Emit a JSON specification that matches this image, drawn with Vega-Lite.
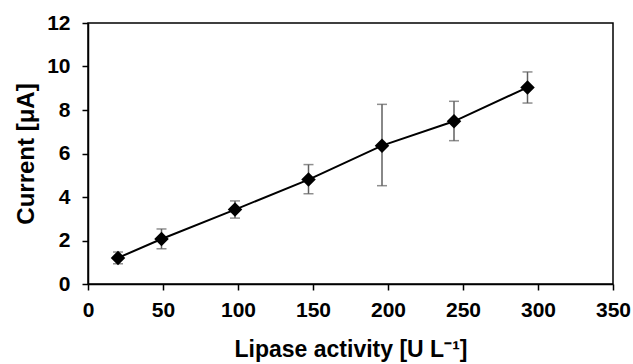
{
  "$schema": "https://vega.github.io/schema/vega-lite/v6.json",
  "autosize": "none",
  "width": 525,
  "height": 261,
  "padding": {"left": 88, "top": 23, "right": 20, "bottom": 80},
  "background": "white",
  "config": {
    "view": {"stroke": "black", "strokeWidth": 1.5},
    "font": "Liberation Sans",
    "axis": {
      "labelFont": "Liberation Sans",
      "labelFontWeight": "bold",
      "labelFontSize": 21,
      "labelColor": "black",
      "titleFont": "Liberation Sans",
      "titleFontWeight": "bold",
      "titleFontSize": 23,
      "titleColor": "black",
      "domainColor": "black",
      "domainWidth": 1.5,
      "tickColor": "black",
      "tickWidth": 1.5,
      "tickSize": 6,
      "grid": false
    }
  },
  "data": {
    "values": [
      {"activity": 20, "current": 1.2, "lo": 0.93, "hi": 1.47},
      {"activity": 49, "current": 2.07, "lo": 1.62, "hi": 2.53},
      {"activity": 98, "current": 3.42, "lo": 3.03, "hi": 3.82},
      {"activity": 147, "current": 4.8, "lo": 4.15, "hi": 5.49},
      {"activity": 196, "current": 6.36, "lo": 4.52, "hi": 8.26},
      {"activity": 244, "current": 7.48, "lo": 6.59, "hi": 8.4},
      {"activity": 293, "current": 9.04, "lo": 8.32, "hi": 9.75}
    ]
  },
  "encoding": {
    "x": {
      "field": "activity",
      "type": "quantitative",
      "scale": {"domain": [0, 350], "nice": false},
      "axis": {
        "title": "Lipase activity [U L⁻¹]",
        "values": [0, 50, 100, 150, 200, 250, 300, 350],
        "labelPadding": 9,
        "titlePadding": 18,
        "labelFlush": false
      }
    }
  },
  "layer": [
    {
      "mark": {"type": "rule", "color": "#606060", "strokeWidth": 1.5},
      "encoding": {
        "y": {
          "field": "lo",
          "type": "quantitative",
          "scale": {"domain": [0, 12], "nice": false},
          "axis": {
            "title": "Current [μA]",
            "titleFontSize": 24,
            "values": [0, 2, 4, 6, 8, 10, 12],
            "labelPadding": 12,
            "titlePadding": 8,
            "labelFlush": false
          }
        },
        "y2": {"field": "hi"}
      }
    },
    {
      "mark": {"type": "tick", "color": "#606060", "thickness": 1.5, "size": 10, "orient": "horizontal"},
      "encoding": {"y": {"field": "lo", "type": "quantitative"}}
    },
    {
      "mark": {"type": "tick", "color": "#606060", "thickness": 1.5, "size": 10, "orient": "horizontal"},
      "encoding": {"y": {"field": "hi", "type": "quantitative"}}
    },
    {
      "mark": {"type": "line", "color": "black", "strokeWidth": 2},
      "encoding": {"y": {"field": "current", "type": "quantitative"}}
    },
    {
      "mark": {"type": "point", "shape": "diamond", "filled": true, "color": "black", "opacity": 1, "size": 210},
      "encoding": {"y": {"field": "current", "type": "quantitative"}}
    }
  ]
}
